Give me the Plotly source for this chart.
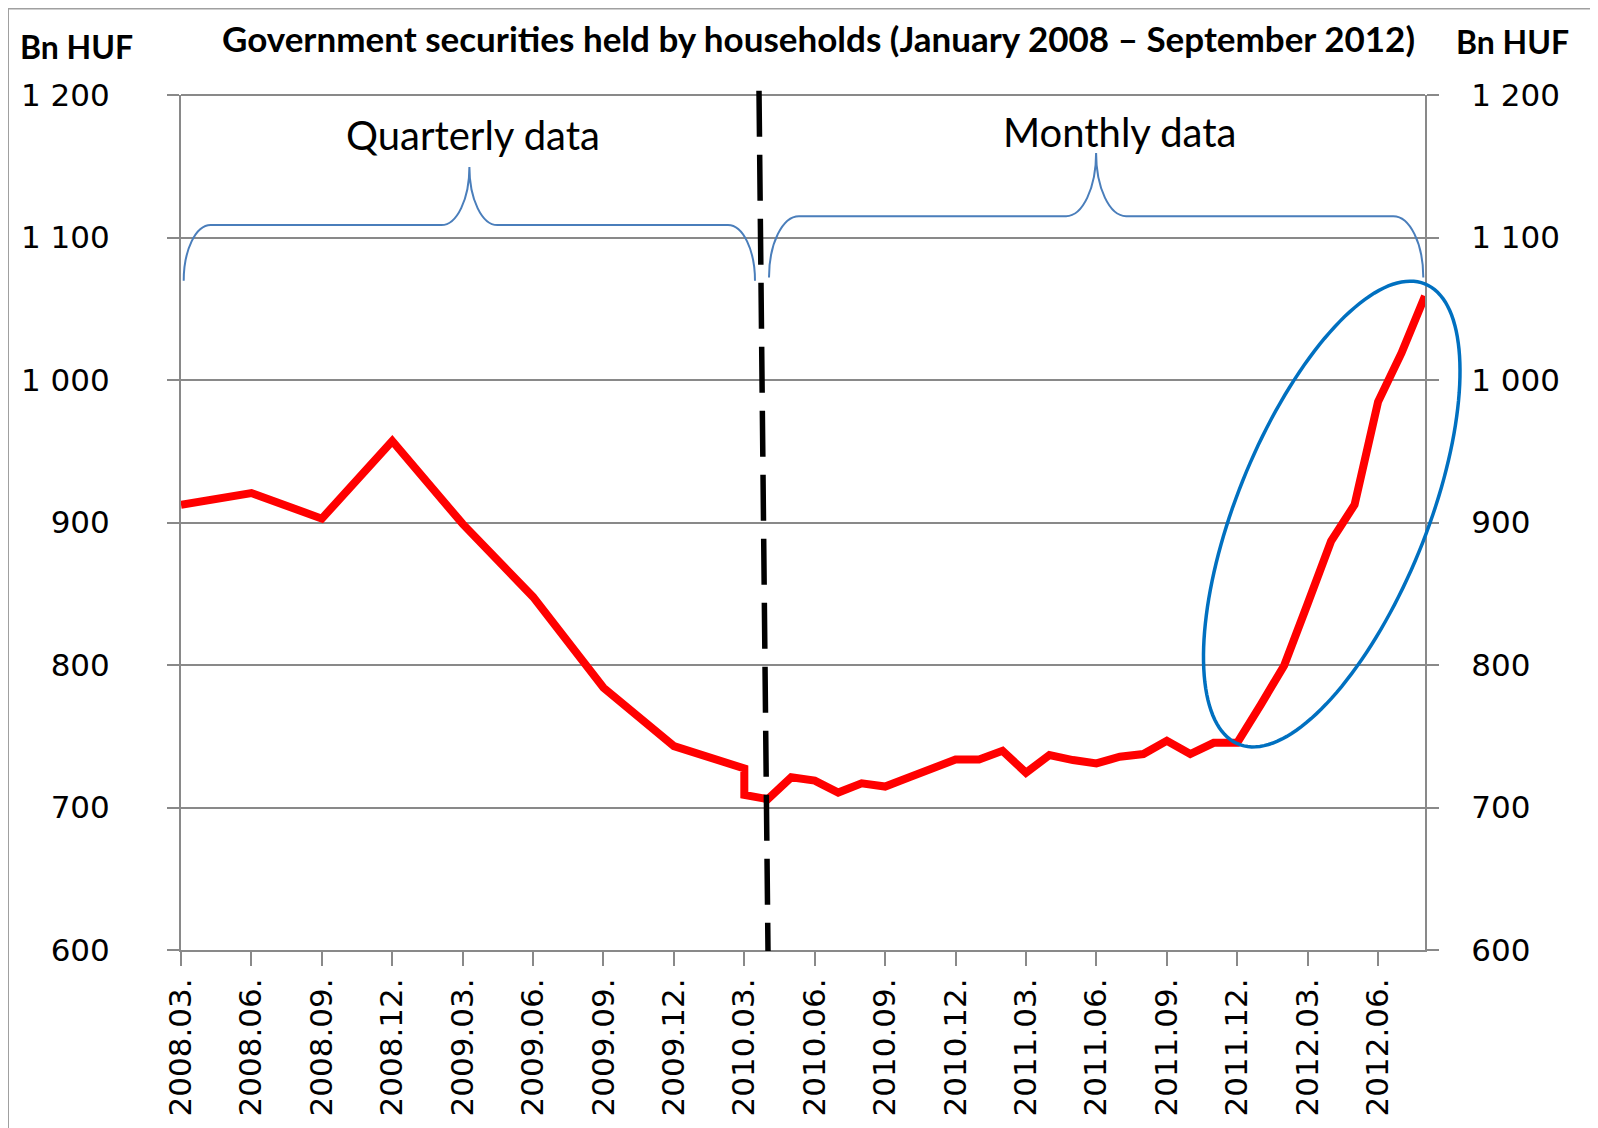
import numpy as np
import plotly.graph_objects as go

# quarterly data (2008.03 - 2010.03)
quarterly_dates = ["2008.03", "2008.06", "2008.09", "2008.12", "2009.03",
                   "2009.06", "2009.09", "2009.12", "2010.03"]
quarterly_values = [912.5, 920.7, 902.7, 957.2, 899.0, 847.8, 784.0, 743.1, 727.4]

# monthly data (2010.03 - 2012.08)
monthly_dates = ["2010.03", "2010.04", "2010.05", "2010.06", "2010.07", "2010.08",
                 "2010.09", "2010.10", "2010.11", "2010.12", "2011.01", "2011.02",
                 "2011.03", "2011.04", "2011.05", "2011.06", "2011.07", "2011.08",
                 "2011.09", "2011.10", "2011.11", "2011.12", "2012.01", "2012.02",
                 "2012.03", "2012.04", "2012.05", "2012.06", "2012.07", "2012.08"]
monthly_values = [708.9, 705.8, 721.2, 718.9, 710.5, 717.0,
                  714.7, 721.0, 727.3, 733.7, 733.7, 739.8,
                  724.4, 736.8, 733.3, 730.9, 735.6, 737.5,
                  746.8, 737.5, 745.4, 745.4, 772.0, 799.7,
                  843.0, 886.9, 912.5, 984.7, 1019.0, 1059.0]

x_tick_labels = ["2008.03.", "2008.06.", "2008.09.", "2008.12.", "2009.03.", "2009.06.",
                 "2009.09.", "2009.12.", "2010.03.", "2010.06.", "2010.09.", "2010.12.",
                 "2011.03.", "2011.06.", "2011.09.", "2011.12.", "2012.03.", "2012.06."]
y_tick_values = [600, 700, 800, 900, 1000, 1100, 1200]
y_tick_labels = ["600", "700", "800", "900", "1 000", "1 100", "1 200"]

title = "Government securities held by households (January 2008 \u2013 September 2012)"
unit = "Bn HUF"


def month_index(s):
    y, m = s.strip(".").split(".")
    return (int(y) - 2008) * 12 + int(m) - 3


# page is 1598x1128, the figure sits 8px in (body margin)
PAGE_W, PAGE_H, OFF = 1598, 1128, 8
W, H = PAGE_W - OFF, PAGE_H - OFF
# plot area, page pixels
PL, PR, PT, PB = 181, 1425, 95, 954
X_RANGE = [0, 53]
Y_RANGE = [600, 1200]


def paper_x(px):
    return (px - PL) / (PR - PL)


def paper_y(py):
    return (PB - py) / (PB - PT)


def brace_path(xl, xr, xt, y_end, y_bar, y_tip, r_end, r_tip):
    k = 0.552
    pts = [
        ("M", [(xl, y_end)]),
        ("C", [(xl, y_end - k * (y_end - y_bar)), (xl + r_end - k * r_end, y_bar), (xl + r_end, y_bar)]),
        ("L", [(xt - r_tip, y_bar)]),
        ("C", [(xt - r_tip + k * r_tip, y_bar), (xt, y_tip + k * (y_bar - y_tip)), (xt, y_tip)]),
        ("C", [(xt, y_tip + k * (y_bar - y_tip)), (xt + r_tip - k * r_tip, y_bar), (xt + r_tip, y_bar)]),
        ("L", [(xr - r_end, y_bar)]),
        ("C", [(xr - r_end + k * r_end, y_bar), (xr, y_end - k * (y_end - y_bar)), (xr, y_end)]),
    ]
    out = ""
    for cmd, ps in pts:
        out += cmd + " " + " ".join(f"{paper_x(px):.5f},{paper_y(py):.5f}" for px, py in ps) + " "
    return out


def ellipse_path(cx, cy, a, b, angle_deg, n=160):
    t = np.linspace(0, 2 * np.pi, n)
    phi = np.radians(angle_deg)
    px = cx + a * np.cos(t) * np.cos(phi) - b * np.sin(t) * np.sin(phi)
    py = cy - (a * np.cos(t) * np.sin(phi) + b * np.sin(t) * np.cos(phi))
    return "M " + " L ".join(f"{paper_x(x):.5f},{paper_y(y):.5f}" for x, y in zip(px, py)) + " Z"


x_all = [month_index(d) for d in quarterly_dates + monthly_dates]
y_all = quarterly_values + monthly_values

fig = go.Figure()
fig.add_trace(go.Scatter(x=x_all, y=y_all, mode="lines",
                         line=dict(color="#ff0000", width=8),
                         hoverinfo="skip", showlegend=False))
# invisible copy so the right axis gets drawn
fig.add_trace(go.Scatter(x=x_all, y=y_all, mode="lines", yaxis="y2",
                         line=dict(color="rgba(0,0,0,0)", width=0),
                         hoverinfo="skip", showlegend=False))

grey = "#898989"
tick_font = dict(family="DejaVu Sans", size=31, color="black")
yax = dict(range=Y_RANGE, tickvals=y_tick_values, ticktext=y_tick_labels,
           showgrid=True, gridcolor=grey, gridwidth=2,
           showline=True, linecolor=grey, linewidth=2,
           ticks="outside", ticklen=12, tickwidth=2, tickcolor=grey,
           zeroline=False, tickfont=tick_font, fixedrange=True)

fig.update_layout(
    width=W, height=H,
    margin=dict(l=PL - OFF, r=PAGE_W - PR, t=PT - OFF, b=PAGE_H - PB, pad=0),
    paper_bgcolor="white", plot_bgcolor="white",
    xaxis=dict(range=X_RANGE, tickvals=[month_index(s) for s in x_tick_labels],
               ticktext=x_tick_labels, tickangle=-90,
               showgrid=False, zeroline=False,
               showline=True, linecolor=grey, linewidth=2,
               ticks="outside", ticklen=14, tickwidth=2, tickcolor=grey,
               tickfont=tick_font, ticklabelstandoff=0),
    yaxis=dict(yax, ticklabelstandoff=51),
    yaxis2=dict(yax, overlaying="y", side="right", ticklabelstandoff=26),
)

shapes = [
    # chart border
    dict(type="rect", x0=paper_x(8), x1=paper_x(PAGE_W + 20),
         y0=paper_y(PAGE_H + 20), y1=paper_y(8),
         line=dict(color="#a0a0a0", width=2), layer="below"),
    # top gridline (1200)
    dict(type="line", x0=0, x1=1, y0=1, y1=1, line=dict(color=grey, width=2)),
    # braces
    dict(type="path", path=brace_path(183.7, 755, 469.4, 281.7, 225.7, 167.3, 27, 28),
         line=dict(color="#4a7ebb", width=2)),
    dict(type="path", path=brace_path(769, 1423.3, 1096.1, 278.3, 216.7, 153.3, 30, 30),
         line=dict(color="#4a7ebb", width=2)),
    # ellipse
    dict(type="path", path=ellipse_path(1331.75, 516, 249.3, 95.1, 68.07),
         line=dict(color="#0070c0", width=3.5)),
    # break between quarterly and monthly data
    dict(type="line", x0=paper_x(759), y0=paper_y(90.7), x1=paper_x(768), y1=paper_y(955),
         line=dict(color="black", width=5.5, dash="46px,18px")),
]
for s in shapes:
    s.update(xref="paper", yref="paper")
fig.update_layout(shapes=shapes)

annotations = [
    dict(text="<b>" + title + "</b>", x=paper_x(818), y=paper_y(37.5),
         font=dict(family="Lato", size=35, color="black")),
    dict(text="<b>" + unit + "</b>", x=paper_x(76.5), y=paper_y(46.5),
         font=dict(family="Lato", size=32, color="black")),
    dict(text="<b>" + unit + "</b>", x=paper_x(1512.6), y=paper_y(41),
         font=dict(family="Lato", size=32, color="black")),
    dict(text="Quarterly data", x=paper_x(473), y=paper_y(135),
         font=dict(family="Lato", size=40, color="black")),
    dict(text="Monthly data", x=paper_x(1119), y=paper_y(132),
         font=dict(family="Lato", size=40, color="black")),
]
for a in annotations:
    a.update(xref="paper", yref="paper", showarrow=False,
             xanchor="center", yanchor="middle")
fig.update_layout(annotations=annotations)

fig.write_html("out.html")
